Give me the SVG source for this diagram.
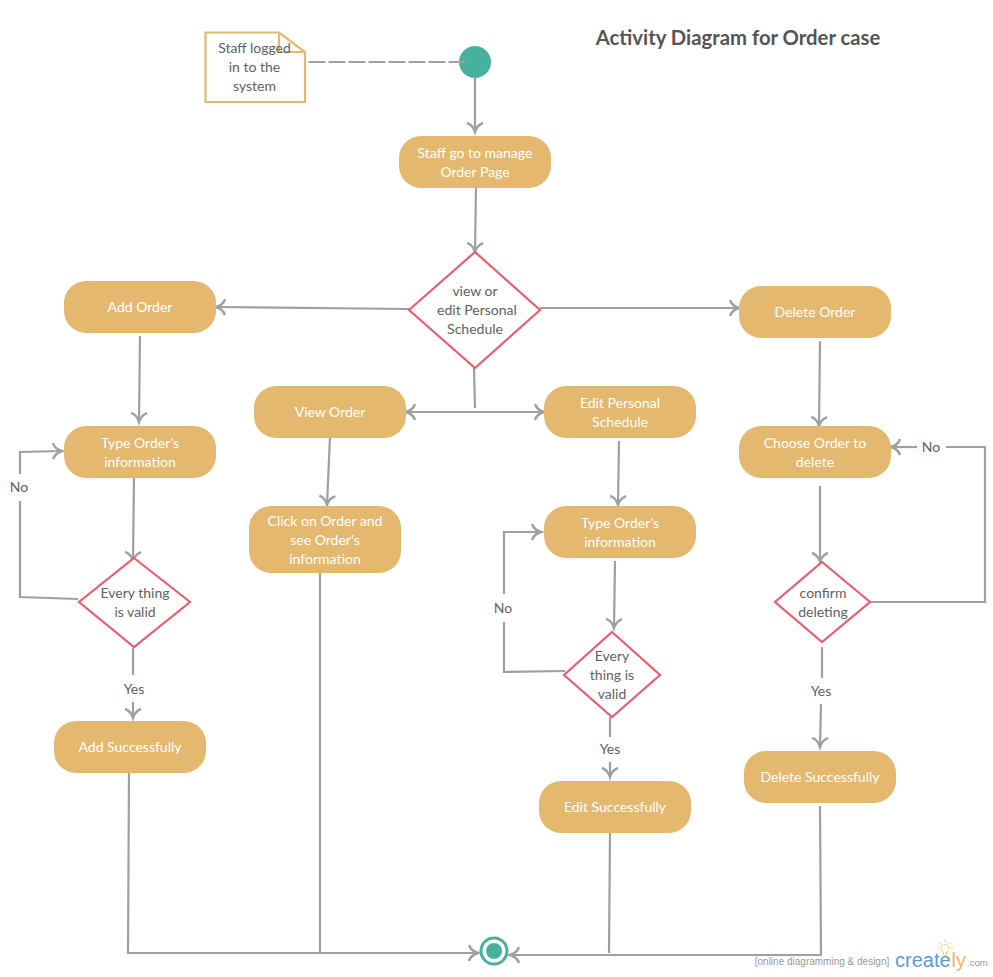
<svg xmlns="http://www.w3.org/2000/svg" width="993" height="977" viewBox="0 0 993 977">
<style>
text{font-family:Lato,"Open Sans","Liberation Sans",sans-serif;font-size:14px;text-anchor:middle}
.a rect{fill:#e4b96f}
.a text{fill:#fff}
.d polygon{fill:#fff;stroke:#e8606e;stroke-width:2.2}
.l,.d text,.n text{fill:#616161}
#connectors path{fill:none;stroke:#a0a0a0;stroke-width:2.2}
</style>
<defs>
<marker id="h" markerUnits="userSpaceOnUse" markerWidth="20" markerHeight="20" refX="16" refY="10" orient="auto-start-reverse" viewBox="0 0 20 20"><path d="M7 2Q9 8 16 10Q9 12 7 18" fill="none" stroke="#a0a0a0" stroke-width="2.4"/></marker>
</defs>
<rect width="993" height="977" fill="#fff"/>
<text id="title" x="738" y="45" style="font-size:20.3px;font-weight:700;fill:#555">Activity Diagram for Order case</text>
<g id="start"><circle cx="475" cy="62" r="16" fill="#46b29d"/></g>
<g id="connectors">
<path d="M308.500 62H465" stroke-dasharray="17 3"/>
<path d="M475 77V132" marker-end="url(#h)"/>
<path d="M476 187L475 252" marker-end="url(#h)"/>
<path d="M409 309L216 307" marker-end="url(#h)"/>
<path d="M540 308H739" marker-end="url(#h)"/>
<path d="M474 368L475 408"/>
<path d="M406 412H544" marker-start="url(#h)" marker-end="url(#h)"/>
<path d="M140 336L139 422" marker-end="url(#h)"/>
<path d="M134 478L133 561" marker-end="url(#h)"/>
<path d="M78 599L20 597V501"/>
<path d="M20 474V452L62 451" marker-end="url(#h)"/>
<path d="M133 648V675"/>
<path d="M133 702V718" marker-end="url(#h)"/>
<path d="M129 773L128 953H478" marker-end="url(#h)"/>
<path d="M330 437L327 505" marker-end="url(#h)"/>
<path d="M320 573V953"/>
<path d="M619 441L618 505" marker-end="url(#h)"/>
<path d="M615 561L614 628" marker-end="url(#h)"/>
<path d="M565 671L504 672V622"/>
<path d="M504 594V532H541" marker-end="url(#h)"/>
<path d="M610 717V737"/>
<path d="M610 762V777" marker-end="url(#h)"/>
<path d="M610 833L609 953"/>
<path d="M820 341L819 426" marker-end="url(#h)"/>
<path d="M820 486V562" marker-end="url(#h)"/>
<path d="M870 602H985V447H946"/>
<path d="M917 447H891" marker-end="url(#h)"/>
<path d="M822 647V678"/>
<path d="M821 704L820 747" marker-end="url(#h)"/>
<path d="M820 806L821 955H510" marker-end="url(#h)"/>
</g>
<g id="note" class="n">
<path d="M205.500 32.500H279L305 52V102H205.500Z" fill="#fff" stroke="#e4b96f" stroke-width="2.200"/>
<path d="M279 32.500V52H305" fill="none" stroke="#e4b96f" stroke-width="2.200"/>
<text x="254.500" y="53">Staff logged</text><text x="254.500" y="72">in to the</text><text x="254.500" y="91">system</text>
</g>
<g id="staff-go" class="a"><rect x="399" y="136" width="152" height="52" rx="22"/><text x="475" y="158">Staff go to manage</text><text x="475" y="177">Order Page</text></g>
<g id="decision-main" class="d"><polygon points="475,252 540,310 475,368 409,310"/><text x="475" y="296">view or</text><text x="477" y="315">edit Personal</text><text x="475" y="334">Schedule</text></g>
<g id="add-order" class="a"><rect x="64" y="281" width="152" height="52" rx="22"/><text x="140" y="312">Add Order</text></g>
<g id="delete-order" class="a"><rect x="739" y="286" width="152" height="52" rx="22"/><text x="815" y="317">Delete Order</text></g>
<g id="view-order" class="a"><rect x="254" y="386" width="152" height="52" rx="22"/><text x="330" y="417">View Order</text></g>
<g id="edit-schedule" class="a"><rect x="544" y="386" width="152" height="52" rx="22"/><text x="620" y="408">Edit Personal</text><text x="620" y="427">Schedule</text></g>
<g id="type-add" class="a"><rect x="64" y="426" width="152" height="52" rx="22"/><text x="140" y="448">Type Order's</text><text x="140" y="467">information</text></g>
<g id="choose-order" class="a"><rect x="739" y="426" width="152" height="52" rx="22"/><text x="815" y="448">Choose Order to</text><text x="815" y="467">delete</text></g>
<g id="click-order" class="a"><rect x="249" y="506" width="152" height="67" rx="22"/><text x="325" y="526">Click on Order and</text><text x="325" y="545">see Order's</text><text x="325" y="564">information</text></g>
<g id="type-edit" class="a"><rect x="544" y="506" width="152" height="52" rx="22"/><text x="620" y="528">Type Order's</text><text x="620" y="547">information</text></g>
<g id="valid-add" class="d"><polygon points="134,558 190,602 134,647 79,602"/><text x="135" y="598">Every thing</text><text x="135" y="617">is valid</text></g>
<g id="confirm-delete" class="d"><polygon points="822,562 870,602 822,642 775,602"/><text x="823" y="598">confirm</text><text x="823" y="617">deleting</text></g>
<g id="valid-edit" class="d"><polygon points="612,632 660,675 612,717 564,675"/><text x="612" y="661">Every</text><text x="612" y="680">thing is</text><text x="612" y="699">valid</text></g>
<g id="add-success" class="a"><rect x="54" y="721" width="152" height="52" rx="22"/><text x="130" y="752">Add Successfully</text></g>
<g id="delete-success" class="a"><rect x="744" y="751" width="152" height="52" rx="22"/><text x="820" y="782">Delete Successfully</text></g>
<g id="edit-success" class="a"><rect x="539" y="781" width="152" height="52" rx="22"/><text x="615" y="812">Edit Successfully</text></g>
<g id="labels">
<text class="l" x="19" y="492">No</text><text class="l" x="503" y="613">No</text><text class="l" x="931" y="452">No</text>
<text class="l" x="134" y="694">Yes</text><text class="l" x="610" y="754">Yes</text><text class="l" x="821" y="696">Yes</text>
</g>
<g id="end"><circle cx="494" cy="951" r="13" fill="#fff" stroke="#46b29d" stroke-width="3"/><circle cx="494" cy="951" r="8" fill="#46b29d"/></g>
<g id="watermark">
<text x="822" y="965" style="font-family:'Liberation Sans',sans-serif;font-size:10px;fill:#999">[online diagramming &amp; design]</text>
<text x="895" y="967" style="font-family:'Liberation Sans',sans-serif;font-size:20px;text-anchor:start;fill:#5b9bd5">create</text>
<text x="951.500" y="967" style="font-family:'Liberation Sans',sans-serif;font-size:20px;text-anchor:start;fill:#f2b266">ly</text>
<text x="967" y="966" style="font-family:'Liberation Sans',sans-serif;font-size:9.500px;text-anchor:start;fill:#999">.com</text>
<path d="M946.500 952a4 4 0 1 0-3 0V955H946.500Z" fill="none" stroke="#f6cf7c"/>
<path d="M945 939V942M938.500 942L940.500 944M951.500 942L949.500 944M937 948H939M951 948H953" fill="none" stroke="#f6cf7c"/>
</g>
</svg>
